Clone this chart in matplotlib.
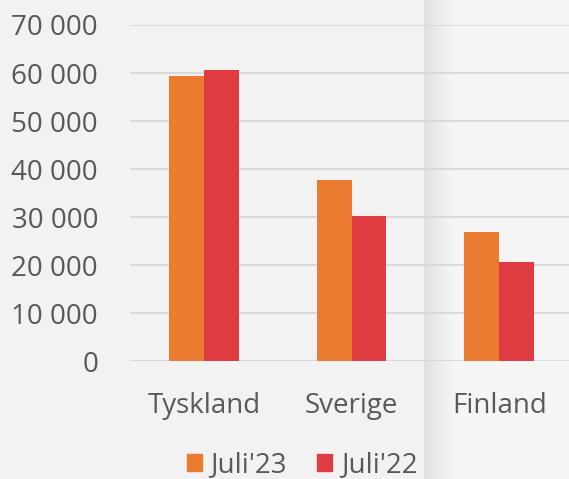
import numpy as np
import matplotlib
matplotlib.use("Agg")
import matplotlib.pyplot as plt
from matplotlib.patches import Patch

# data
countries = ["Tyskland", "Sverige", "Finland"]
juli23 = [59400, 37700, 26900]
juli22 = [60600, 30200, 20600]
series_labels = ["Juli'23", "Juli'22"]
yticks = [0, 10000, 20000, 30000, 40000, 50000, 60000, 70000]

ORANGE = "#EB7B30"
RED = "#DE3C41"
TEXT = "#595959"
GRID = "#D9D9D9"

plt.rcParams["font.family"] = ["Open Sans", "DejaVu Sans"]

W, H = 569, 479
fig = plt.figure(figsize=(W / 100, H / 100), dpi=100)

# background: two panels with a soft shadow at the seam
bg_ax = fig.add_axes([0, 0, 1, 1], zorder=-10)
cols = np.arange(W)
shade = np.full(W, 0xF2 / 255.0)
seam = 424
ramp = np.clip((cols[seam:] - seam) / 30.0, 0, 1)
shade[seam:] = 0xE0 / 255.0 + (0xF5 - 0xE0) / 255.0 * ramp
bg = np.tile(shade, (H, 1))
bg_ax.imshow(bg, cmap="gray", vmin=0, vmax=1, aspect="auto", interpolation="nearest")
bg_ax.axis("off")

ax = fig.add_axes([130 / W, 118 / H, 443 / W, 336 / H])
ax.set_facecolor("none")

x = np.arange(len(countries))
bw = 0.235
ax.bar(x - bw / 2, juli23, bw, color=ORANGE, zorder=3)
ax.bar(x + bw / 2, juli22, bw, color=RED, zorder=3)

ax.set_xlim(-0.5, 2.5)
ax.set_ylim(0, 70000)
ax.set_yticks(yticks)
ax.set_yticklabels([f"{v:,}".replace(",", " ") for v in yticks])
ax.set_xticks(x)
ax.set_xticklabels(countries)
ax.yaxis.grid(True, color=GRID, linewidth=1.4, zorder=0)
ax.set_axisbelow(True)
for s in ax.spines.values():
    s.set_visible(False)
ax.tick_params(axis="both", length=0, colors=TEXT, labelsize=20)
ax.tick_params(axis="y", pad=23)
ax.tick_params(axis="x", pad=22)

handles = [Patch(color=ORANGE), Patch(color=RED)]
fig.legend(handles, series_labels, loc="center", bbox_to_anchor=(302 / W, 1 - 465 / H),
           ncol=2, frameon=False, fontsize=20, labelcolor=TEXT,
           handlelength=0.55, handleheight=0.55, handletextpad=0.3, columnspacing=1.1)

fig.savefig("out.png", dpi=100)
